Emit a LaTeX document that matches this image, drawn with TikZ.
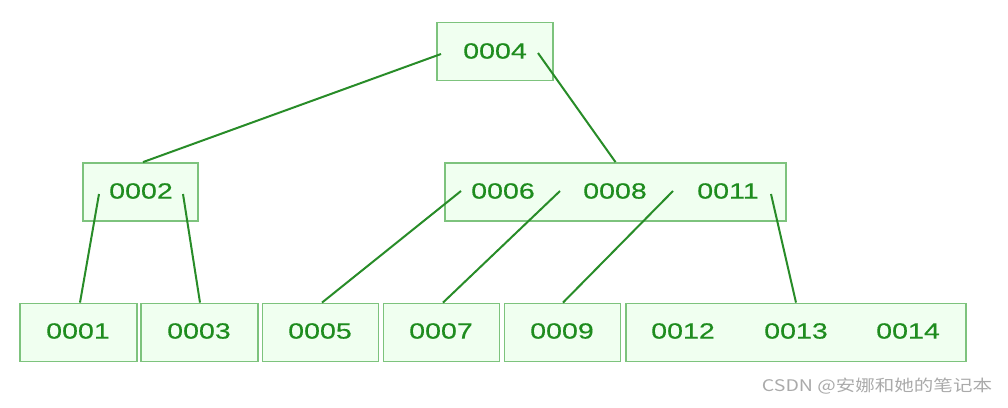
\documentclass[tikz,border=0pt]{standalone}
\usepackage{fontspec}
\setmainfont{Liberation Sans}
\newfontfamily\keyfont[FakeStretch=1.3, FakeBold=0.4]{Liberation Sans}
\newfontfamily\cjk[FakeStretch=1.22]{Noto Sans CJK SC}
\definecolor{boxline}{RGB}{125,195,125}
\definecolor{boxfill}{RGB}{240,255,240}
\definecolor{edgecol}{RGB}{40,140,40}
\definecolor{keytext}{RGB}{30,140,30}
\definecolor{wmark}{RGB}{170,170,170}
\tikzset{
  bbox/.style={draw=boxline, fill=boxfill, line width=1.8pt, inner sep=0pt, minimum height=58pt},
  keylab/.style={text=keytext, font=\keyfont\fontsize{22}{22}\selectfont, inner sep=0pt},
  edgeline/.style={draw=edgecol, line width=2pt}
}
\begin{document}
\begin{tikzpicture}[x=1pt,y=-1pt]
\useasboundingbox (0,0) rectangle (1008,407);
% boxes
\node[bbox, minimum width=116pt] (root) at (495,51.5) {};
\node[bbox, minimum width=115pt] (lft) at (140.5,192) {};
\node[bbox, minimum width=341pt] (rgt) at (615.5,192) {};
\node[bbox, minimum width=117pt] (b1) at (78.5,332.5) {};
\node[bbox, minimum width=117pt] (b3) at (199.5,332.5) {};
\node[bbox, minimum width=116pt] (b5) at (320.5,332.5) {};
\node[bbox, minimum width=116pt] (b7) at (441.5,332.5) {};
\node[bbox, minimum width=116pt] (b9) at (562.5,332.5) {};
\node[bbox, minimum width=340pt] (b12) at (796,332.5) {};
% keys
\node[keylab] (k4) at (495,51) {0004};
\node[keylab] (k2) at (141,191) {0002};
\node[keylab] (k6) at (503,191) {0006};
\node[keylab] (k8) at (615,191) {0008};
\node[keylab] (k11) at (728,191) {0011};
\node[keylab] (k1) at (78,331) {0001};
\node[keylab] (k3) at (199,331) {0003};
\node[keylab] (k5) at (320,331) {0005};
\node[keylab] (k7) at (441,331) {0007};
\node[keylab] (k9) at (562,331) {0009};
\node[keylab] (k12) at (683,331) {0012};
\node[keylab] (k13) at (796,331) {0013};
\node[keylab] (k14) at (908,331) {0014};
% pointer coordinates
\coordinate (p4l) at (441,54);
\coordinate (p4r) at (538,53);
\coordinate (p2l) at (99,194);
\coordinate (p2r) at (183,194);
\coordinate (p6) at (461,191);
\coordinate (p8) at (560,191);
\coordinate (p11) at (673,191);
\coordinate (p11r) at (771,194);
% edges
\draw[edgeline] (p4l) -- (lft.north -| 143,0);
\draw[edgeline] (p4r) -- (rgt.north);
\draw[edgeline] (p2l) -- (b1.north -| 80,0);
\draw[edgeline] (p2r) -- (b3.north -| 200,0);
\draw[edgeline] (p6) -- (b5.north -| 322,0);
\draw[edgeline] (p8) -- (b7.north -| 443,0);
\draw[edgeline] (p11) -- (b9.north -| 563,0);
\draw[edgeline] (p11r) -- (b12.north);
% watermark
\node[text=wmark, font=\cjk\fontsize{16}{16}\selectfont, inner sep=0pt] (wm) at (877,386) {CSDN @安娜和她的笔记本};
\end{tikzpicture}
\end{document}
